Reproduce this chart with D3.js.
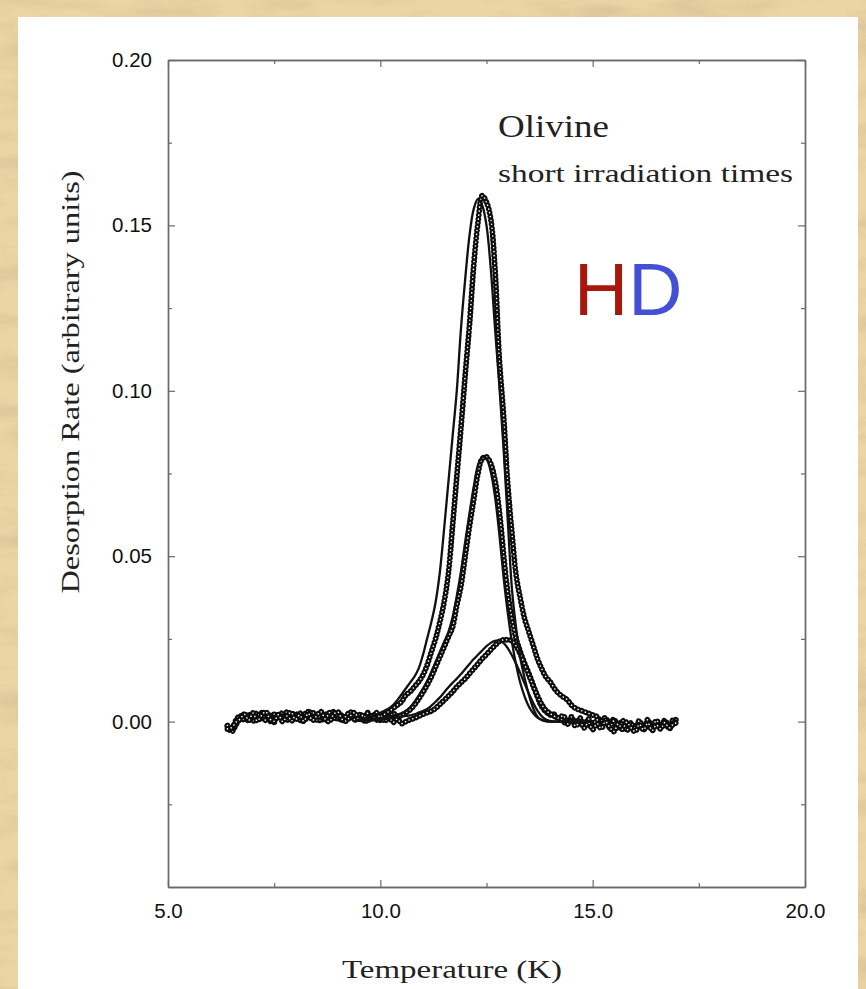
<!DOCTYPE html>
<html>
<head>
<meta charset="utf-8">
<script src="https://cdn.jsdelivr.net/npm/d3@7"></script>
<style>
html,body{margin:0;padding:0;background:#EAD3A2;}
svg{display:block;}
</style>
</head>
<body>
<svg id="chart" width="866" height="989"></svg>
<script>
// ---------------- DATA ----------------
const temps = [6.4,6.5,6.6,6.7,6.8,6.9,7.0,7.1,7.2,7.3,7.4,7.5,7.6,7.7,7.8,7.9,8.0,8.1,8.2,8.3,8.4,8.5,8.6,8.7,8.8,8.9,9.0,9.1,9.2,9.3,9.4,9.5,9.6,9.7,9.8,9.9,10.0,10.1,10.2,10.3,10.4,10.5,10.6,10.7,10.8,10.9,11.0,11.1,11.2,11.3,11.4,11.5,11.6,11.7,11.8,11.9,12.0,12.1,12.2,12.3,12.4,12.5,12.6,12.7,12.8,12.9,13.0,13.1,13.2,13.3,13.4,13.5,13.6,13.7,13.8,13.9,14.0,14.1,14.2,14.3,14.4,14.5,14.6,14.7,14.8,14.9,15.0,15.1,15.2,15.3,15.4,15.5,15.6,15.7,15.8,15.9,16.0,16.1,16.2,16.3,16.4,16.5,16.6,16.7,16.8,16.9,17.0];

// measured desorption rate (open circles)
const bigData = [
 -0.0015,-0.0030,-0.0010,0.0010,0.0022,0.0002,0.0014,0.0026,0.0006,0.0018,0.0000,0.0022,0.0010,0.0028,0.0004,0.0016,0.0025,0.0003,0.0020,0.0030,0.0008,0.0018,0.0001,0.0024,0.0012,0.0030,0.0005,0.0020,0.0009,0.0026,0.0004,0.0022,0.0010,0.0027,0.0013,
 0.0015,0.002,0.0025,0.003,0.004,0.005,0.006,0.008,0.009,0.0105,0.012,0.014,0.017,0.021,0.025,0.030,0.036,0.0445,0.059,0.074,0.089,0.105,0.120,0.138,0.151,0.159,0.157,0.152,0.137,0.110,0.093,0.072,0.057,0.044,0.037,0.031,0.027,0.023,0.019,0.016,0.0135,0.012,0.010,0.0085,0.0075,0.0066,0.005,0.004,0.0035,0.003,0.0025,0.002,
 0.0015,0.0001,0.0012,-0.0010,0.0008,-0.0016,0.0004,-0.0022,-0.0004,-0.0026,-0.0006,-0.0018,0.0006,-0.0024,-0.0002,-0.0019,0.0004,-0.0015,0.0006,0.0004];

const midData = [
 -0.0012,-0.0024,0.0004,0.0018,0.0003,0.0024,0.0002,0.0014,0.0027,0.0004,0.0019,-0.0002,0.0023,0.0008,0.0029,0.0002,0.0015,0.0026,0.0001,0.0019,0.0030,0.0005,0.0021,0.0003,0.0027,0.0010,0.0023,0.0001,0.0018,0.0029,0.0006,0.0021,0.0002,0.0025,0.0009,0.0028,0.0004,0.0022,0.0008,0.0026,0.0012,
 0.002,0.0027,0.0036,0.005,0.0068,0.0088,0.011,0.0135,0.0165,0.0195,0.0225,0.0255,0.0285,0.035,0.041,0.050,0.059,0.067,0.075,0.0795,0.080,0.078,0.073,0.064,0.051,0.039,0.031,0.025,0.021,0.0175,0.0145,0.011,0.0075,0.0045,0.003,0.002,
 0.0022,0.0006,0.0019,0.0000,0.0014,-0.0006,0.0011,-0.0010,0.0008,-0.0012,0.0006,-0.0015,0.0004,-0.0018,0.0002,-0.0022,-0.0004,-0.0027,-0.0008,-0.0019,0.0003,-0.0024,-0.0005,-0.0018,0.0004,-0.0016,0.0001,-0.0022,-0.0004,0.0002];

const smallData = [
 -0.0022,-0.0018,-0.0002,0.0008,0.0022,0.0004,0.0026,0.0002,0.0018,0.0030,0.0008,0.0001,0.0021,0.0000,0.0017,0.0028,0.0006,0.0020,0.0001,0.0025,0.0004,0.0017,0.0030,0.0008,0.0000,0.0022,0.0029,0.0007,0.0002,0.0018,0.0027,0.0004,0.0020,0.0000,0.0017,0.0004,0.0020,0.0001,0.0014,-0.0002,0.0008,-0.0006,0.0000,
 0.0006,0.0010,0.0016,0.0022,0.0027,0.0032,0.0040,0.0052,0.0064,0.0077,0.009,0.0105,0.0118,0.013,0.0145,0.016,0.0175,0.019,0.0203,0.0217,0.023,0.0242,0.0247,0.0247,0.0244,0.0228,0.0203,0.0172,0.014,0.0108,0.0078,0.0052,0.0034,0.0024,0.0016,
 0.0010,0.0002,-0.0008,0.0005,-0.0014,0.0000,-0.0019,-0.0003,-0.0024,-0.0006,-0.0021,0.0000,-0.0017,-0.0030,-0.0007,-0.0023,-0.0002,-0.0018,-0.0030,-0.0008,-0.0025,-0.0004,-0.0027,-0.0010,-0.0022,-0.0003,-0.0019,-0.0008,-0.0002,0.0000];

// model fits (solid lines)
const fitTemps = [9.4,9.5,9.6,9.7,9.8,9.9,10.0,10.1,10.2,10.3,10.4,10.5,10.6,10.7,10.8,10.9,11.0,11.1,11.2,11.3,11.4,11.5,11.6,11.7,11.8,11.9,12.0,12.1,12.2,12.3,12.4,12.5,12.6,12.7,12.8,12.9,13.0,13.1,13.2,13.3,13.4,13.5,13.6,13.7,13.8,13.9,14.0,14.1,14.2,14.3,14.4,14.5,14.6,14.7,14.8,14.9,15.0];

const bigFit = [0.0004,0.0006,0.0009,0.0012,0.0016,0.0021,0.0027,0.0033,0.004,0.005,0.0065,0.0082,0.010,0.0118,0.0135,0.016,0.020,0.025,0.030,0.036,0.045,0.058,0.072,0.086,0.100,0.119,0.134,0.147,0.155,0.158,0.156,0.150,0.137,0.119,0.102,0.083,0.061,0.040,0.028,0.019,0.013,0.008,0.004,0.0015,0.0005,0.0001,0,0,0,0,0,0,0,0,0,0,0];

const midFit = [0.0002,0.0003,0.0004,0.0005,0.0007,0.0009,0.0011,0.0013,0.0016,0.0019,0.0022,0.0025,0.0032,0.0043,0.0059,0.0078,0.0099,0.0122,0.015,0.018,0.021,0.024,0.027,0.0315,0.038,0.0455,0.0545,0.063,0.071,0.0775,0.080,0.0795,0.0755,0.068,0.057,0.044,0.033,0.024,0.017,0.0115,0.0075,0.0045,0.0025,0.0012,0.0005,0.0002,0,0,0,0,0,0,0,0,0,0,0];

const smallFit = [0.0002,0.0002,0.0003,0.0003,0.0004,0.0005,0.0006,0.0007,0.0009,0.0011,0.0013,0.0015,0.0017,0.0019,0.0022,0.0027,0.0032,0.0038,0.0048,0.006,0.0073,0.0088,0.0103,0.0117,0.013,0.0144,0.0159,0.0174,0.0189,0.0202,0.0215,0.0228,0.0238,0.0244,0.0245,0.0238,0.0222,0.020,0.0174,0.0145,0.0114,0.0084,0.0056,0.0033,0.0016,0.0006,0.0002,0,0,0,0,0,0,0,0,0,0];

const xMajorTicks = [5, 10, 15, 20];
const xMinorTicks = [7.5, 12.5, 17.5];
const yMajorTicks = [0.00, 0.05, 0.10, 0.15, 0.20];
const yMinorTicks = [-0.025, 0.025, 0.075, 0.125, 0.175];

// ---------------- DRAW ----------------
const svg = d3.select("#chart");

// parchment background
const defs = svg.append("defs");
const f = defs.append("filter").attr("id","paper").attr("x",0).attr("y",0).attr("width","100%").attr("height","100%");
f.append("feTurbulence").attr("type","fractalNoise").attr("baseFrequency","0.012 0.045").attr("numOctaves",4).attr("seed",7).attr("result","n");
f.append("feColorMatrix").attr("type","matrix")
 .attr("values","0 0 0 0 0.62  0 0 0 0 0.47  0 0 0 0 0.27  2.2 0 0 0 -0.95");
svg.append("rect").attr("width",866).attr("height",989).attr("fill","#EBD5A5");
svg.append("rect").attr("width",866).attr("height",989).attr("filter","url(#paper)").attr("opacity",0.55);

// white panel
svg.append("rect").attr("x",18).attr("y",17).attr("width",840).attr("height",980).attr("fill","#ffffff");

const x = d3.scaleLinear().domain([5, 20]).range([168, 805]);
const y = d3.scaleLinear().domain([-0.05, 0.20]).range([887, 60]);

const plot = svg.append("g");

const line = d3.line().x(d => x(d[0])).y(d => y(d[1])).curve(d3.curveCatmullRom.alpha(0.5));

function drawData(vals){
  const pts = temps.map((t,i) => [t, vals[i]]);
  plot.append("path").attr("d", line(pts)).attr("fill","none")
    .attr("stroke","#0c0c0c").attr("stroke-width",5.8).attr("stroke-linecap","round")
    .attr("stroke-dasharray","0.01 3.9");
  plot.append("path").attr("d", line(pts)).attr("fill","none")
    .attr("stroke","#fff").attr("stroke-width",1.6).attr("stroke-linecap","round")
    .attr("stroke-dasharray","0.01 3.9");
}
drawData(bigData);
drawData(midData);
drawData(smallData);

function drawFit(vals){
  const pts = fitTemps.map((t,i) => [t, vals[i]]);
  plot.append("path").attr("d", line(pts)).attr("fill","none")
    .attr("stroke","#111").attr("stroke-width",2.3).attr("stroke-linejoin","round");
}
drawFit(bigFit);
drawFit(midFit);
drawFit(smallFit);

// axes / frame
const frameColor = "#6a6a6a";
function styleAxis(g){
  g.selectAll("path.domain").attr("stroke", frameColor).attr("stroke-width",1.4);
  g.selectAll(".tick line").attr("stroke", frameColor).attr("stroke-width",1.2);
  g.selectAll(".tick text").attr("fill","#111").attr("font-family","'Liberation Sans', Arial, sans-serif").attr("font-size",20.5);
}

const xb = svg.append("g").attr("transform","translate(0,887)")
  .call(d3.axisBottom(x).tickValues(xMajorTicks).tickSize(-7).tickSizeOuter(0).tickPadding(16).tickFormat(d3.format(".1f")));
styleAxis(xb);
const xbm = svg.append("g").attr("transform","translate(0,887)")
  .call(d3.axisBottom(x).tickValues(xMinorTicks).tickSize(-4).tickSizeOuter(0).tickFormat(""));
styleAxis(xbm);
const xt = svg.append("g").attr("transform","translate(0,60)")
  .call(d3.axisTop(x).tickValues(xMajorTicks).tickSize(-7).tickSizeOuter(0).tickFormat(""));
styleAxis(xt);
const xtm = svg.append("g").attr("transform","translate(0,60)")
  .call(d3.axisTop(x).tickValues(xMinorTicks).tickSize(-4).tickSizeOuter(0).tickFormat(""));
styleAxis(xtm);

const yl = svg.append("g").attr("transform","translate(168,0)")
  .call(d3.axisLeft(y).tickValues(yMajorTicks).tickSize(-7).tickSizeOuter(0).tickPadding(16).tickFormat(d3.format(".2f")));
styleAxis(yl);
const ylm = svg.append("g").attr("transform","translate(168,0)")
  .call(d3.axisLeft(y).tickValues(yMinorTicks).tickSize(-4).tickSizeOuter(0).tickFormat(""));
styleAxis(ylm);
const yr = svg.append("g").attr("transform","translate(805,0)")
  .call(d3.axisRight(y).tickValues(yMajorTicks).tickSize(-7).tickSizeOuter(0).tickFormat(""));
styleAxis(yr);
const yrm = svg.append("g").attr("transform","translate(805,0)")
  .call(d3.axisRight(y).tickValues(yMinorTicks).tickSize(-4).tickSizeOuter(0).tickFormat(""));
styleAxis(yrm);

// annotations
const serif = "'Liberation Serif', 'Times New Roman', serif";
svg.append("text").attr("x",498).attr("y",137).attr("font-family",serif).attr("font-size",31)
  .attr("fill","#222").attr("textLength",111).attr("lengthAdjust","spacingAndGlyphs").text("Olivine");
svg.append("text").attr("x",498).attr("y",182).attr("font-family",serif).attr("font-size",26)
  .attr("fill","#222").attr("textLength",295).attr("lengthAdjust","spacingAndGlyphs").text("short irradiation times");

const hd = svg.append("text").attr("x",574).attr("y",315)
  .attr("font-family","'Liberation Sans', Arial, sans-serif").attr("font-size",75);
hd.append("tspan").attr("fill","#A8170B").text("H");
hd.append("tspan").attr("fill","#4350D6").text("D");

// axis titles
svg.append("text").attr("transform","translate(79,382) rotate(-90)").attr("text-anchor","middle")
  .attr("font-family",serif).attr("font-size",26).attr("fill","#222")
  .attr("textLength",423).attr("lengthAdjust","spacingAndGlyphs")
  .text("Desorption Rate (arbitrary units)");
svg.append("text").attr("x",452).attr("y",978).attr("text-anchor","middle")
  .attr("font-family",serif).attr("font-size",26).attr("fill","#222")
  .attr("textLength",220).attr("lengthAdjust","spacingAndGlyphs")
  .text("Temperature (K)");
</script>
</body>
</html>
